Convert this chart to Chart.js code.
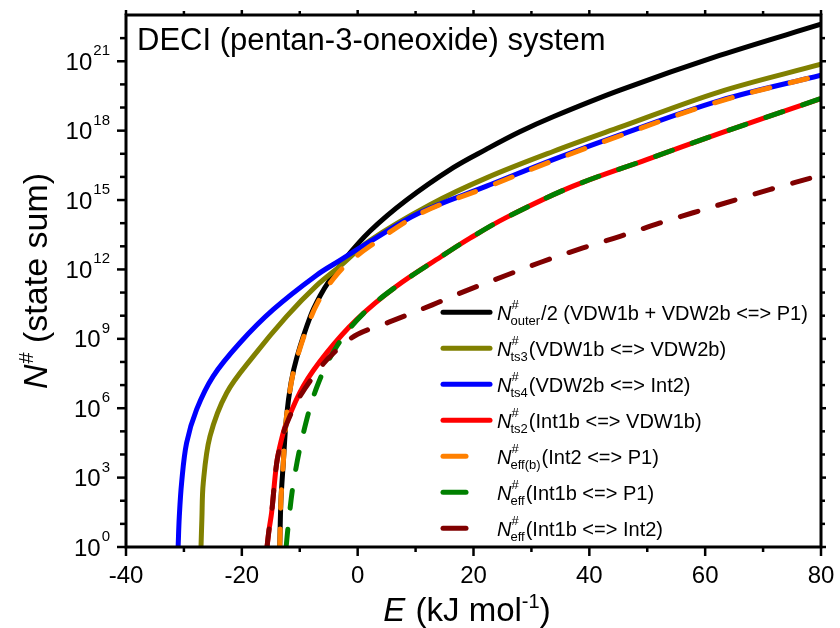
<!DOCTYPE html>
<html>
<head>
<meta charset="utf-8">
<script src="https://cdn.jsdelivr.net/npm/chart.js@4"></script>
<style>
  html, body { margin: 0; padding: 0; background: #fff; }
  #wrap { width: 840px; height: 628px; }
</style>
</head>
<body>
<div id="wrap"><canvas id="stateSumChart" width="840" height="628"></canvas></div>
<script>
const FONT = '"Liberation Sans", Arial, sans-serif';

// E in kJ/mol, values given as log10(N#)
const eOuter   = [-13.45, -13.25, -12.85, -12.3, -11.5, -10.5, -8.2, -6.5, -4.8, -2.2, 2.1, 8.45, 16.5, 22.25, 28, 33.75, 45.3, 62.5, 80];
const logOuter = [0, 2.0, 3.6, 5.6, 7.1, 8.2, 9.95, 10.85, 11.55, 12.45, 13.65, 15.0, 16.4, 17.2, 17.95, 18.6, 19.75, 21.25, 22.6];

const eTs3   = [-27.05, -26.9, -26.66, -25.5, -22.62, -18.03, -12.26, -7.1, -3, 2.1, 12.5, 22.25, 33.75, 45.3, 62.5, 80];
const logTs3 = [0, 1.2, 2.77, 4.78, 6.66, 8.24, 9.97, 11.3, 12.15, 13.25, 14.8, 15.96, 17.1, 18.15, 19.68, 20.87];

const eTs4   = [-31, -30.8, -30.4, -29.54, -27.82, -24.96, -20.35, -14.6, -7.1, -3, 2.1, 10.7, 22.25, 33.75, 45.3, 62.5, 80];
const logTs4 = [0, 1.3, 2.77, 4.5, 5.94, 7.38, 8.82, 10.26, 11.75, 12.4, 13.2, 14.45, 15.6, 16.75, 17.82, 19.3, 20.4];

const eTs2   = [-15.65, -15.3, -14.85, -14.0, -13.2, -12.3, -9.4, -5.36, -0.18, 6.7, 14.5, 19.4, 25.7, 37.2, 49.9, 62.5, 80];
const logTs2 = [0, 0.75, 1.5, 3.6, 4.6, 5.36, 6.95, 8.39, 9.83, 11.27, 12.57, 13.35, 14.25, 15.6, 16.75, 17.88, 19.39];

const eEffB   = [-13.45, -13.25, -12.85, -12.3, -11.5, -10.5, -8.2, -6.5, -4.8, -2.2, 2.1, 10.7, 22.25, 33.75, 45.3, 62.5, 80];
const logEffB = [0, 2.0, 3.6, 5.6, 7.05, 8.15, 9.85, 10.75, 11.4, 12.15, 13.0, 14.4, 15.55, 16.7, 17.78, 19.27, 20.4];

const eEffP1   = [-12.35, -12.0, -11.1, -9.4, -7.0, -3.6, 1.0, 6.7, 14.5, 19.4, 25.7, 37.2, 49.9, 62.5, 80];
const logEffP1 = [0, 0.9, 2.75, 4.9, 6.95, 8.68, 10.1, 11.27, 12.57, 13.35, 14.25, 15.6, 16.75, 17.88, 19.39];

const eEffInt2   = [-15.65, -15.3, -14.85, -14.0, -13.2, -12.3, -10, -6, -3, 0, 5.5, 12.9, 17.9, 26, 31.5, 38.9, 45.3, 52.2, 57.9, 65.4, 71.1, 80];
const logEffInt2 = [0, 0.75, 1.5, 3.6, 4.55, 5.3, 6.5, 7.9, 8.65, 9.2, 9.73, 10.47, 11.0, 11.78, 12.3, 12.93, 13.43, 14.01, 14.45, 15.02, 15.45, 16.07];

// legend text pieces
const legendSubs  = ['outer', 'ts3', 'ts4', 'ts2', 'eff(b)', 'eff', 'eff'];
const legendTails = ['/2 (VDW1b + VDW2b <=> P1)', '(VDW1b <=> VDW2b)', '(VDW2b <=> Int2)',
                     '(Int1b <=> VDW1b)', '(Int2 <=> P1)', '(Int1b <=> P1)', '(Int1b <=> Int2)'];

// axis ticks
const xMajor = [-40, -20, 0, 20, 40, 60, 80];
const xMinor = [-30, -10, 10, 30, 50, 70];
const yMajorExp = [0, 3, 6, 9, 12, 15, 18, 21];
const yMinorExp = [1, 2, 4, 5, 7, 8, 10, 11, 13, 14, 16, 17, 19, 20, 22];

const toPoints = (xs, logs) => xs.map((x, i) => ({ x: x, y: Math.pow(10, logs[i]) }));

const DASH = [18, 21];

function series(label, xs, logs, color, dashed, order) {
    return {
        label: label,
        data: toPoints(xs, logs),
        borderColor: color,
        backgroundColor: color,
        borderWidth: 5,
        borderDash: dashed ? DASH : [],
        borderCapStyle: 'round',
        borderJoinStyle: 'round',
        tension: 0.35,
        pointRadius: 0,
        fill: false,
        order: order
    };
}

const datasets = [
    series('outer', eOuter, logOuter, '#000000', false, 7),
    series('ts3', eTs3, logTs3, '#808000', false, 6),
    series('ts4', eTs4, logTs4, '#0000ff', false, 5),
    series('ts2', eTs2, logTs2, '#ff0000', false, 4),
    series('effb', eEffB, logEffB, '#ff8000', true, 3),
    series('eff1', eEffP1, logEffP1, '#008000', true, 2),
    series('eff2', eEffInt2, logEffInt2, '#800000', true, 1)
];

function drawSeq(ctx, x, y, parts) {
    let cx = x;
    parts.forEach(p => {
        ctx.font = p.font;
        ctx.fillText(p.text, cx, y + (p.dy || 0));
        cx += ctx.measureText(p.text).width + (p.gap || 0);
    });
    return cx;
}

function seqWidth(ctx, parts) {
    let w = 0;
    parts.forEach(p => {
        ctx.font = p.font;
        w += ctx.measureText(p.text).width + (p.gap || 0);
    });
    return w;
}

const decorations = {
    id: 'decorations',
    afterDraw(chart) {
        const ctx = chart.ctx;
        const area = chart.chartArea;
        const xs = chart.scales.x;
        const ys = chart.scales.y;
        ctx.save();
        ctx.fillStyle = '#000';
        ctx.strokeStyle = '#000';

        // frame
        ctx.lineWidth = 3;
        ctx.strokeRect(area.left, area.top, area.right - area.left, area.bottom - area.top);

        // ticks: bottom/left outward, top/right mirrored
        ctx.lineWidth = 2.5;
        ctx.lineCap = 'butt';
        const tick = (x1, y1, x2, y2) => { ctx.beginPath(); ctx.moveTo(x1, y1); ctx.lineTo(x2, y2); ctx.stroke(); };
        xMajor.forEach(v => {
            const px = xs.getPixelForValue(v);
            tick(px, area.bottom, px, area.bottom + 9);
            tick(px, area.top, px, area.top - 5);
        });
        xMinor.forEach(v => {
            const px = xs.getPixelForValue(v);
            tick(px, area.bottom, px, area.bottom + 5);
            tick(px, area.top, px, area.top - 4);
        });
        yMajorExp.forEach(e => {
            const py = ys.getPixelForValue(Math.pow(10, e));
            tick(area.left, py, area.left - 9, py);
            tick(area.right, py, area.right + 5, py);
        });
        yMinorExp.forEach(e => {
            const py = ys.getPixelForValue(Math.pow(10, e));
            tick(area.left, py, area.left - 6, py);
            tick(area.right, py, area.right + 4, py);
        });

        // x tick labels
        ctx.textAlign = 'center';
        ctx.textBaseline = 'alphabetic';
        ctx.font = '24px ' + FONT;
        xMajor.forEach(v => {
            ctx.fillText(String(v), xs.getPixelForValue(v), area.bottom + 36);
        });

        // y tick labels 10^n
        ctx.textAlign = 'left';
        yMajorExp.forEach(e => {
            const py = ys.getPixelForValue(Math.pow(10, e));
            const parts = [
                { text: '10', font: '24px ' + FONT, dy: 8.5, gap: 1 },
                { text: String(e), font: '15px ' + FONT, dy: -6 }
            ];
            drawSeq(ctx, 110 - seqWidth(ctx, parts), py, parts);
        });

        // heading
        ctx.font = '31px ' + FONT;
        ctx.fillText('DECI (pentan-3-oneoxide) system', 137, 50);

        // x title
        const xt = [
            { text: 'E', font: 'italic 33px ' + FONT, gap: 1 },
            { text: ' (kJ mol', font: '33px ' + FONT },
            { text: '-1', font: '20px ' + FONT, dy: -13 },
            { text: ')', font: '33px ' + FONT }
        ];
        drawSeq(ctx, 467 - seqWidth(ctx, xt) / 2, 621, xt);

        // y title
        const yt = [
            { text: 'N', font: 'italic 34px ' + FONT, gap: 1 },
            { text: '#', font: '20px ' + FONT, dy: -14 },
            { text: ' (state sum)', font: '34px ' + FONT }
        ];
        ctx.save();
        ctx.translate(47, 281);
        ctx.rotate(-Math.PI / 2);
        drawSeq(ctx, -seqWidth(ctx, yt) / 2, 0, yt);
        ctx.restore();

        // legend
        const rowY0 = 312.3, rowStep = 36;
        chart.data.datasets.forEach((ds, i) => {
            const yc = rowY0 + i * rowStep;
            ctx.strokeStyle = ds.borderColor;
            ctx.lineWidth = 5;
            ctx.lineCap = 'round';
            ctx.setLineDash([]);
            ctx.beginPath();
            ctx.moveTo(443, yc);
            ctx.lineTo(ds.borderDash.length ? 466 : 490, yc);
            ctx.stroke();

            const base = yc + 8;
            ctx.fillStyle = '#000';
            ctx.font = 'italic 20px ' + FONT;
            ctx.fillText('N', 497, base);
            const sx = 497 + ctx.measureText('N').width - 1;
            ctx.font = '13px ' + FONT;
            ctx.fillText('#', sx + 1, base - 11);
            ctx.fillText(legendSubs[i], sx, base + 5);
            const wSup = ctx.measureText('#').width + 1;
            const wSub = ctx.measureText(legendSubs[i]).width;
            ctx.font = '20px ' + FONT;
            ctx.fillText(legendTails[i], sx + Math.max(wSup, wSub) + 1, base);
        });

        ctx.restore();
    }
};

new Chart(document.getElementById('stateSumChart').getContext('2d'), {
    type: 'line',
    data: { datasets: datasets },
    options: {
        responsive: false,
        animation: false,
        layout: { padding: { top: 15, right: 19, left: 0, bottom: 0 } },
        plugins: {
            legend: { display: false },
            tooltip: { enabled: false }
        },
        scales: {
            x: {
                type: 'linear',
                min: -40,
                max: 80,
                ticks: { display: false },
                grid: { display: false },
                border: { display: false },
                afterFit: s => { s.height = 81; }
            },
            y: {
                type: 'logarithmic',
                min: 1,
                max: 1e23,
                ticks: { display: false },
                grid: { display: false },
                border: { display: false },
                afterFit: s => { s.width = 126; }
            }
        }
    },
    plugins: [decorations]
});
</script>
</body>
</html>
